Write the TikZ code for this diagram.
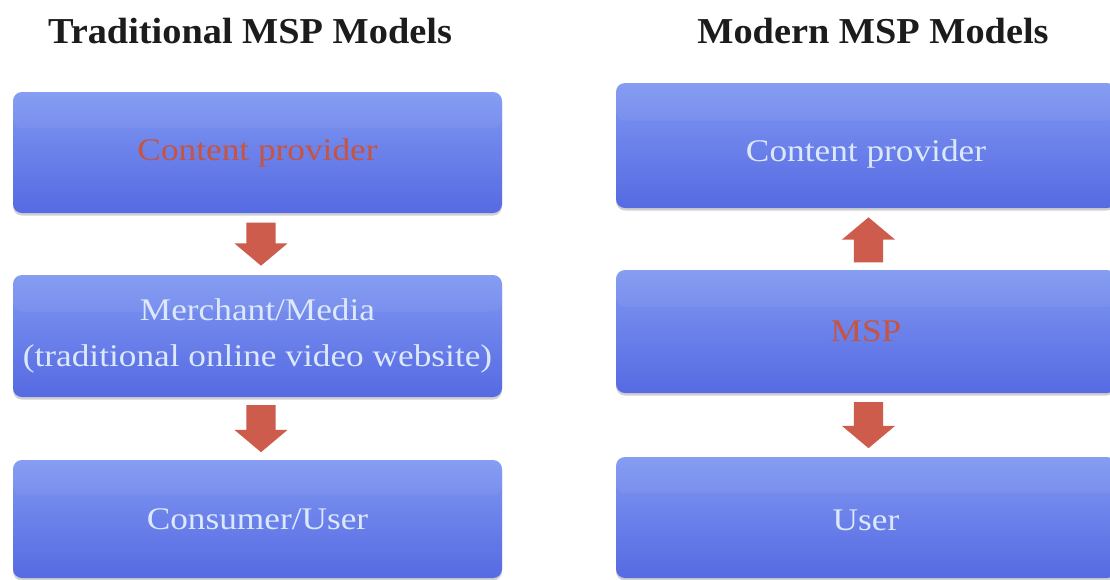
\documentclass[tikz,border=0pt]{standalone}
\usepackage{fontspec}
\setmainfont{Liberation Serif}
\newfontfamily\boxfont[FakeStretch=1.12]{Liberation Serif}
\newfontfamily\titlefont[FakeStretch=1.05]{Liberation Serif}
\usetikzlibrary{shapes.arrows,shadows,calc}

\definecolor{boxtop}{RGB}{128,152,242}
\definecolor{boxbot}{RGB}{86,106,226}
\definecolor{boxtext}{RGB}{220,232,251}
\definecolor{hotred}{RGB}{198,84,64}
\definecolor{arrowred}{RGB}{206,92,76}
\definecolor{titleink}{RGB}{28,28,30}

\tikzset{
  panel/.style={rectangle, rounded corners=9pt, draw=none,
    top color=boxtop, bottom color=boxbot, inner sep=0pt,
    text=boxtext, align=center,
    font=\boxfont\fontsize{31.5}{46}\selectfont,
    drop shadow={shadow xshift=0pt, shadow yshift=-2.5pt, opacity=0.3, fill=black!60},
    path picture={\fill[white,opacity=0.05]
      (path picture bounding box.north west) rectangle
      ($(path picture bounding box.north east)!0.3!(path picture bounding box.south east)$);}},
  leftpanel/.style={panel, minimum width=489pt},
  rightpanel/.style={panel, minimum width=500pt},
  heading/.style={anchor=base, text=titleink,
    font=\titlefont\bfseries\fontsize{36.5}{40}\selectfont},
  fatarrow/.style={single arrow, fill=arrowred, draw=none,
    inner xsep=0pt, inner ysep=14.5pt,
    minimum width=53pt, single arrow head extend=12pt,
    single arrow tip angle=100},
}

\begin{document}
\begin{tikzpicture}[x=1pt,y=-1pt]
  \useasboundingbox (0,0) rectangle (1110,579);
  \clip (0,0) rectangle (1110,579);
  \fill[white] (0,0) rectangle (1110,579);

  % column headings
  \node[heading] (tradtitle) at (250,43) {Traditional MSP Models};
  \node[heading] (modtitle) at (873,43) {Modern MSP Models};

  % traditional chain
  \node[leftpanel, minimum height=121pt, text=hotred] (tcp) at (257.5,152.5) {Content provider};
  \node[leftpanel, minimum height=122pt] (tmm) at (257.5,336) {Merchant/Media\\(traditional online video website)};
  \node[leftpanel, minimum height=118pt] (tcu) at (257.5,519) {Consumer/User};

  % modern chain
  \node[rightpanel, minimum height=125pt] (mcp) at (866,145.5) {\raisebox{-8pt}[\height][\depth]{Content provider}};
  \node[rightpanel, minimum height=123pt, text=hotred] (msp) at (866,331.5) {MSP};
  \node[rightpanel, minimum height=121pt] (mu) at (866,517.5) {\raisebox{-3pt}[\height][\depth]{User}};

  % flow arrows (the arrow's centre anchor sits nearer its tail, hence the offsets)
  \node[fatarrow, minimum height=43pt, rotate=-90] (ta1) at ($($(tcp.south)!0.5!(tmm.north)$)+(3.5,-6)$) {};
  \node[fatarrow, minimum height=47pt, rotate=-90] (ta2) at ($($(tmm.south)!0.5!(tcu.north)$)+(3.5,-6)$) {};
  \node[fatarrow, minimum height=45pt, rotate=90] (ma1) at ($($(msp.north)!0.5!(mcp.south)$)+(2.5,7)$) {};
  \node[fatarrow, minimum height=46pt, rotate=-90] (ma2) at ($($(msp.south)!0.5!(mu.north)$)+(2.5,-6)$) {};
\end{tikzpicture}
\end{document}
